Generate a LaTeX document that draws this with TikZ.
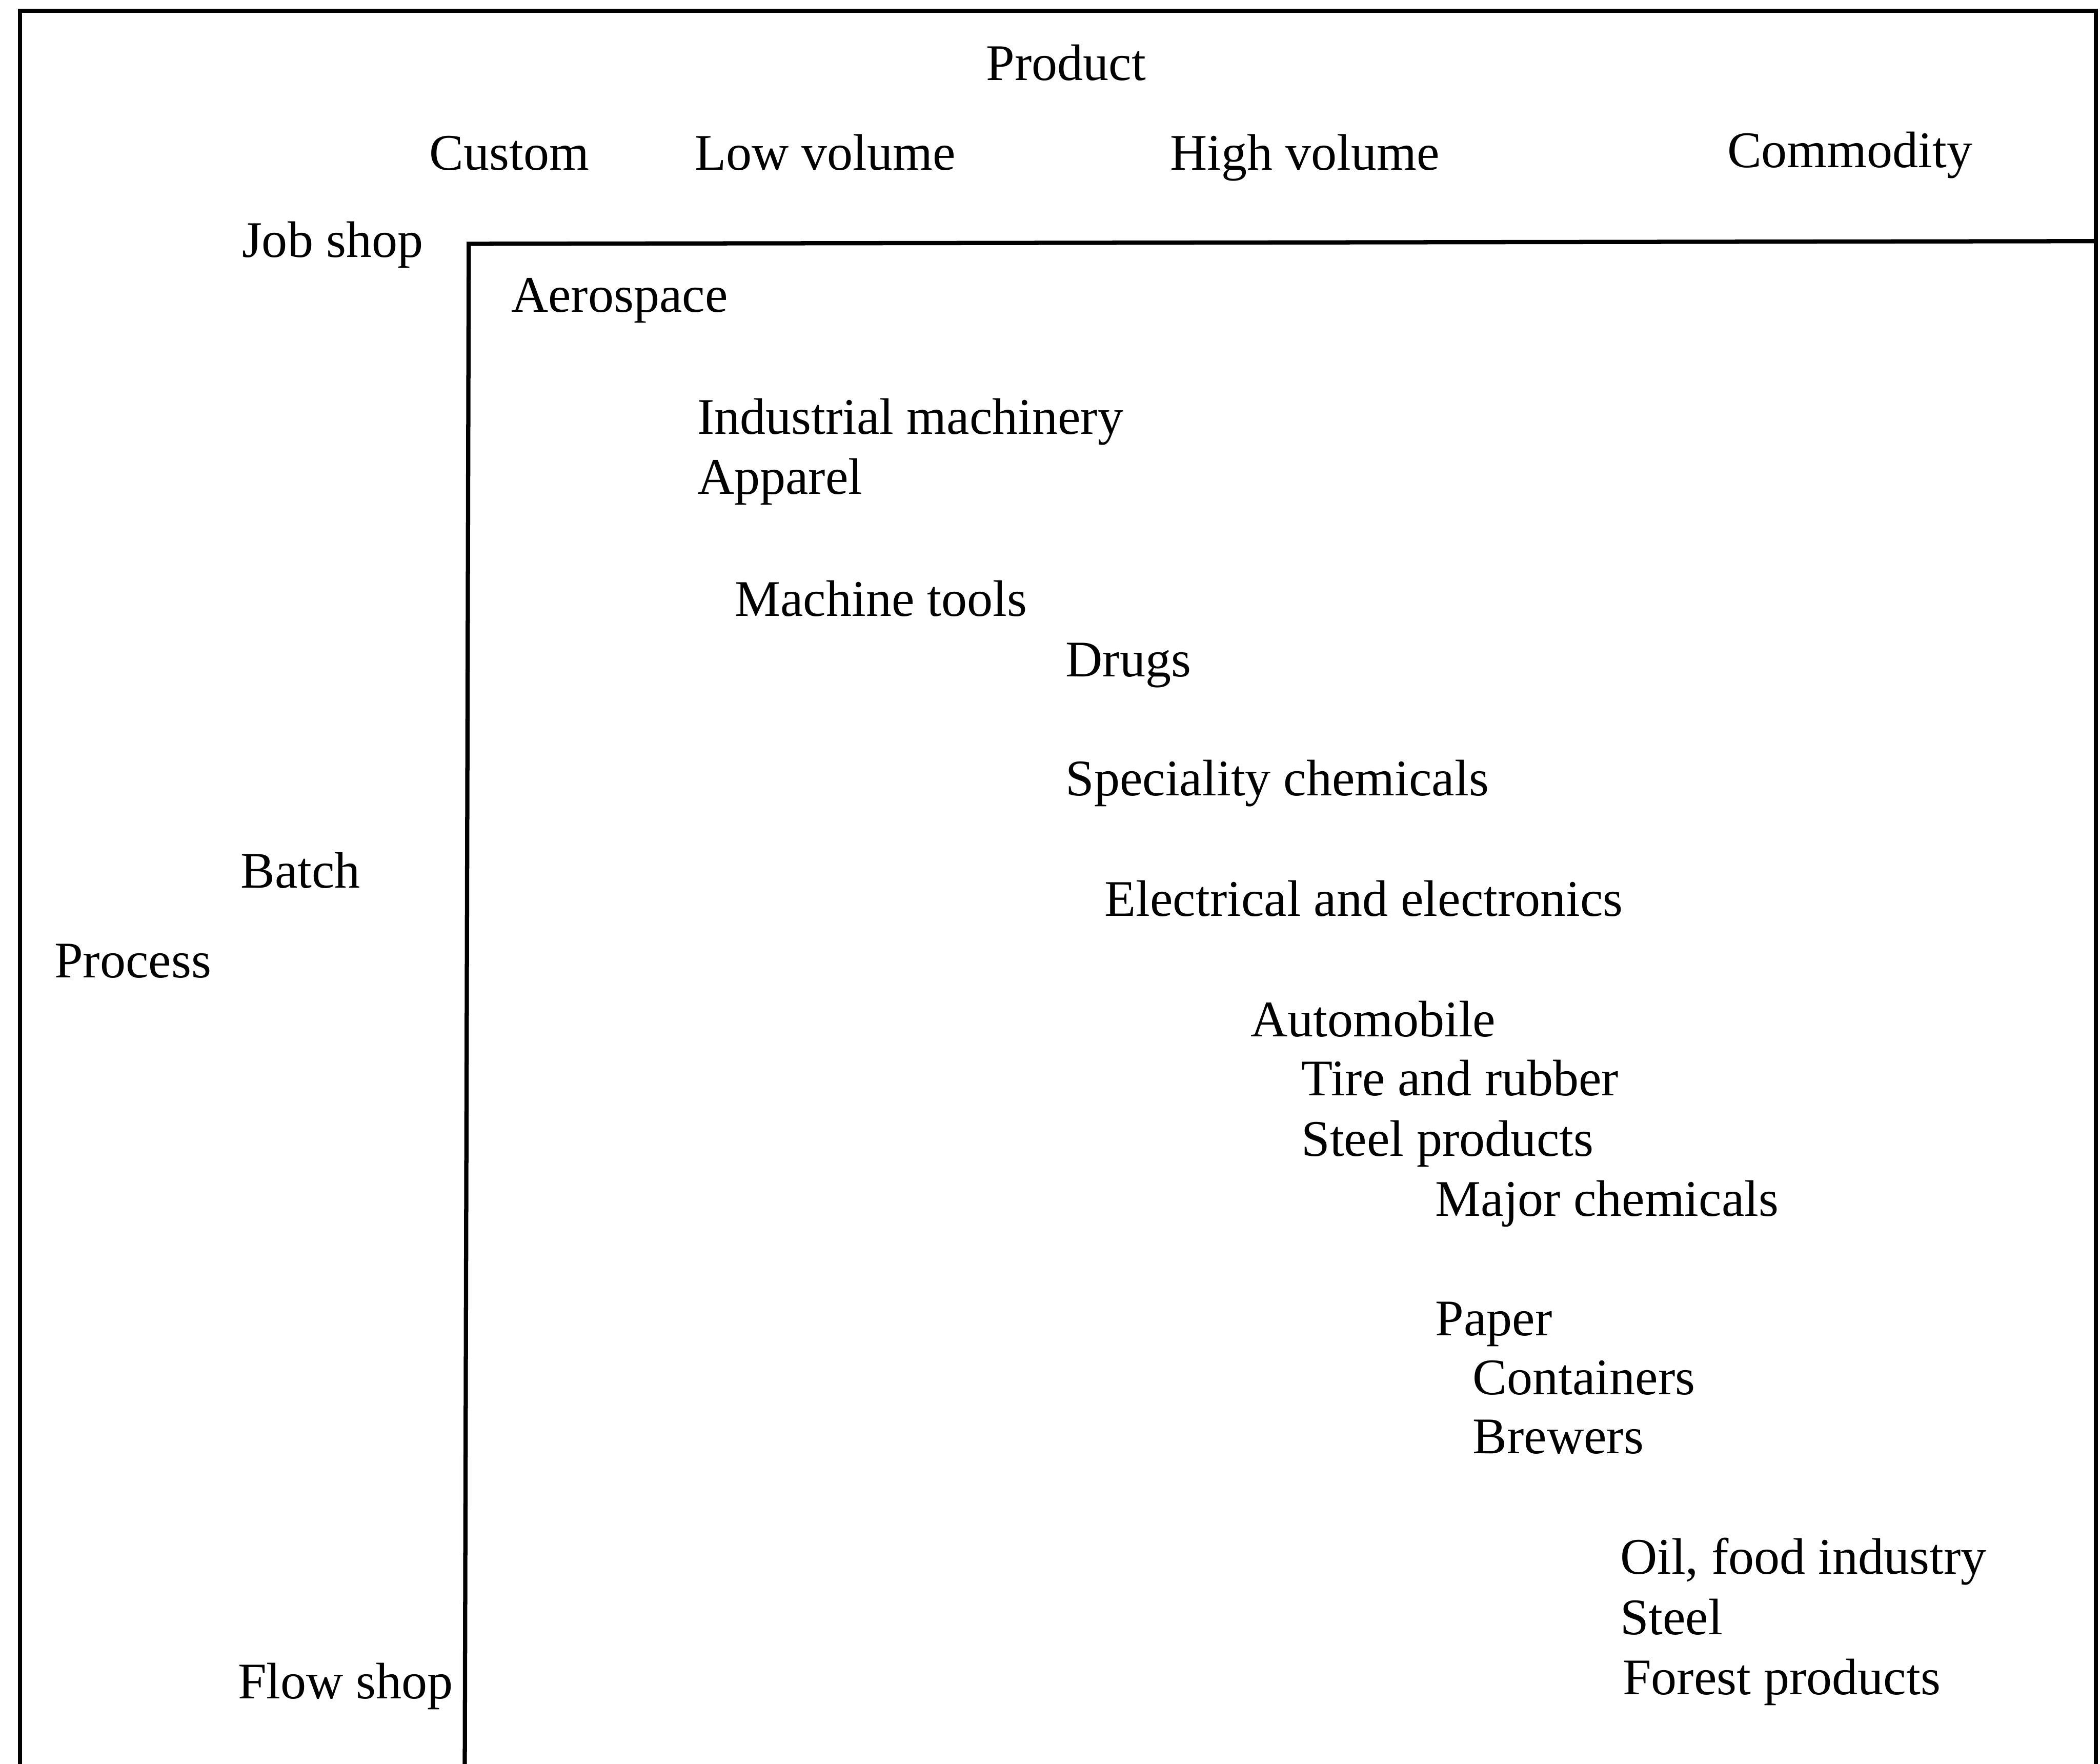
\documentclass[tikz,border=0pt]{standalone}
\usepackage{fontspec}
\setmainfont{Liberation Serif}
\begin{document}
\begin{tikzpicture}[
  lbl/.style={anchor=base west, inner sep=0pt, font=\fontsize{10.9pt}{13pt}\selectfont},
  frame/.style={line width=0.9pt, line join=miter}
]
\useasboundingbox (0,0) rectangle (15.68,-13.166);

% outer frame (open at the bottom)
\coordinate (obl) at (0.15,-13.3);
\coordinate (otl) at (0.15,-0.08);
\coordinate (otr) at (15.65,-0.08);
\coordinate (obr) at (15.65,-13.3);
\draw[frame] (obl) -- (otl) -- (otr) -- (obr);

% inner frame (the matrix area)
\coordinate (ibl) at (3.47,-13.3);
\coordinate (itl) at (3.50,-1.82);
\coordinate (itr) at (15.65,-1.80);
\draw[frame] (ibl) -- (itl) -- (itr);

% product axis
\node[lbl, anchor=base] (product) at (7.96,-0.60) {Product};
\node[lbl] (custom) at (3.20,-1.27) {Custom};
\node[lbl] (lowvol) at (5.18,-1.27) {Low volume};
\node[lbl] (highvol) at (8.73,-1.27) {High volume};
\node[lbl] (commodity) at (12.89,-1.25) {Commodity};

% process axis
\node[lbl] (jobshop) at (1.80,-1.92) {Job shop};
\node[lbl] (batch) at (1.79,-6.63) {Batch};
\node[lbl] (process) at (0.40,-7.30) {Process};
\node[lbl] (flowshop) at (1.77,-12.68) {Flow shop};

% industries
\node[lbl] (aero) at (3.81,-2.33) {Aerospace};
\node[lbl] (indmach) at (5.20,-3.24) {Industrial machinery};
\node[lbl] (apparel) at (5.20,-3.69) {Apparel};
\node[lbl] (machtools) at (5.48,-4.60) {Machine tools};
\node[lbl] (drugs) at (7.95,-5.05) {Drugs};
\node[lbl] (specchem) at (7.95,-5.94) {Speciality chemicals};
\node[lbl] (elec) at (8.24,-6.84) {Electrical and electronics};
\node[lbl] (auto) at (9.33,-7.74) {Automobile};
\node[lbl] (tire) at (9.71,-8.18) {Tire and rubber};
\node[lbl] (steelprod) at (9.71,-8.63) {Steel products};
\node[lbl] (majchem) at (10.71,-9.08) {Major chemicals};
\node[lbl] (paper) at (10.71,-9.97) {Paper};
\node[lbl] (containers) at (10.99,-10.41) {Containers};
\node[lbl] (brewers) at (10.99,-10.85) {Brewers};
\node[lbl] (oilfood) at (12.09,-11.75) {Oil, food industry};
\node[lbl] (steel) at (12.09,-12.20) {Steel};
\node[lbl] (forest) at (12.11,-12.65) {Forest products};
\end{tikzpicture}
\end{document}
